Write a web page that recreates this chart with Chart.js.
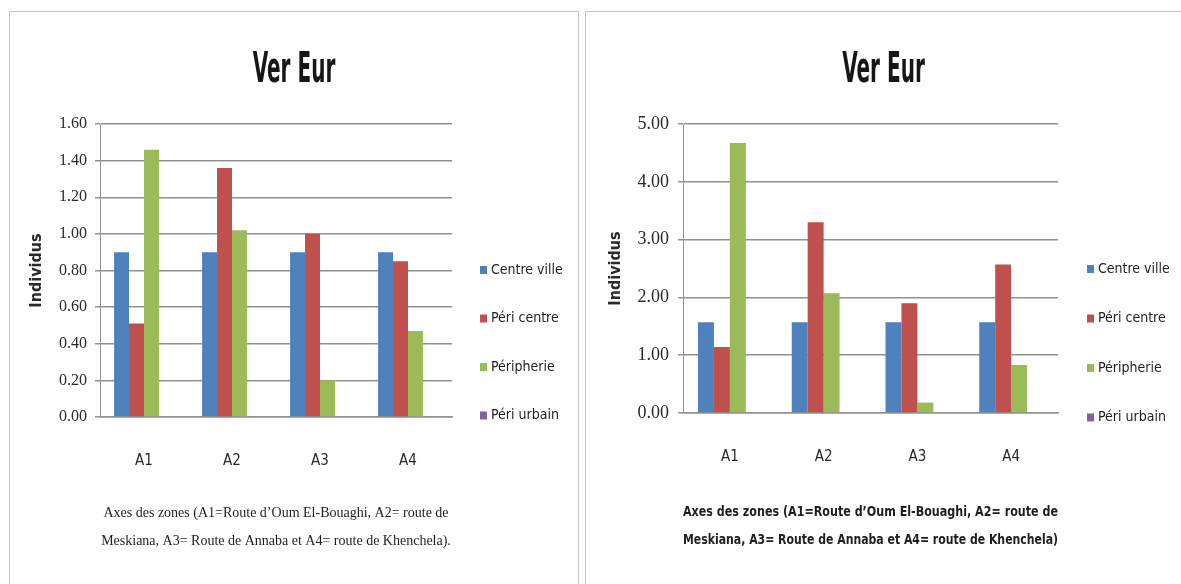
<!DOCTYPE html>
<html lang="fr">
<head>
<meta charset="UTF-8">
<title>Ver Eur</title>
<script src="https://cdn.jsdelivr.net/npm/chart.js"></script>
<style>
  body { margin: 0; background: #fff; width: 1181px; height: 584px; overflow: hidden; position: relative; }
  .panel { position: absolute; top: 11px; border: 1px solid #c6c6c6; border-bottom: none; background: #fff; }
  #leftPanel { left: 9px; width: 568px; height: 573px; }
  #rightPanel { left: 585px; width: 596px; height: 573px; border-right: none; }
  canvas { display: block; }
</style>
</head>
<body>
<div class="panel" id="leftPanel"><canvas id="leftChart" width="568" height="573"></canvas></div>
<div class="panel" id="rightPanel"><canvas id="rightChart" width="595" height="573"></canvas></div>

<script>
// categories and series
const categories = ['A1', 'A2', 'A3', 'A4'];
const seriesNames = ['Centre ville', 'Péri centre', 'Péripherie', 'Péri urbain'];
const seriesColors = ['#4f81bd', '#c0504d', '#9bbb59', '#8064a2'];

// left chart values
const leftCentreVille = [0.90, 0.90, 0.90, 0.90];
const leftPeriCentre  = [0.51, 1.36, 1.00, 0.85];
const leftPeripherie  = [1.46, 1.02, 0.20, 0.47];
const leftPeriUrbain  = [0, 0, 0, 0];
const leftTicks = [0, 0.2, 0.4, 0.6, 0.8, 1.0, 1.2, 1.4, 1.6];

// right chart values
const rightCentreVille = [1.57, 1.57, 1.57, 1.57];
const rightPeriCentre  = [1.14, 3.30, 1.90, 2.57];
const rightPeripherie  = [4.67, 2.07, 0.18, 0.83];
const rightPeriUrbain  = [0, 0, 0, 0];
const rightTicks = [0, 1, 2, 3, 4, 5];

const chartTitle = 'Ver Eur';
const yTitle = 'Individus';
const leftCaption = ['Axes des zones (A1=Route d\u2019Oum El-Bouaghi, A2= route de',
                     'Meskiana, A3= Route de Annaba et A4= route de Khenchela).'];
const rightCaption = ['Axes des zones (A1=Route d\u2019Oum El-Bouaghi, A2= route de',
                      'Meskiana, A3= Route de Annaba et A4= route de Khenchela)'];

const narrow = "'DejaVu Sans Condensed', 'DejaVu Sans', sans-serif";
const serif = "'Liberation Serif', 'DejaVu Serif', serif";
const gridGray = '#929292';

// tall, narrow chart title like the original picture
const squeezedTitle = {
    id: 'squeezedTitle',
    afterDraw(chart, args, opts) {
        const ctx = chart.ctx;
        ctx.save();
        ctx.translate(chart.width / 2, opts.baseline);
        ctx.scale(opts.squeeze, 1);
        ctx.font = 'bold 42px ' + narrow;
        ctx.fillStyle = '#161616';
        ctx.textAlign = 'center';
        ctx.textBaseline = 'alphabetic';
        ctx.fillText(opts.text, 0, 0);
        ctx.restore();
    }
};

// legend drawn at a fixed place at the right of the plot
const sideLegend = {
    id: 'sideLegend',
    afterDraw(chart, args, opts) {
        const ctx = chart.ctx;
        ctx.save();
        ctx.font = '14px ' + narrow;
        ctx.textBaseline = 'middle';
        chart.data.datasets.forEach((ds, i) => {
            const y = opts.y + i * opts.step;
            ctx.fillStyle = ds.backgroundColor;
            ctx.fillRect(opts.x, y - 4, 7, 8);
            ctx.fillStyle = '#1e1e1e';
            ctx.fillText(ds.label, opts.x + 11, y);
        });
        ctx.restore();
    }
};

const makeDatasets = (values) => values.map((vals, i) => ({
    label: seriesNames[i],
    data: vals,
    backgroundColor: seriesColors[i],
    borderWidth: 0,
    categoryPercentage: 0.68,
    barPercentage: 1.0
}));

const makeChart = (canvasId, values, ticks, cfg) => {
    const ctx = document.getElementById(canvasId).getContext('2d');
    return new Chart(ctx, {
        type: 'bar',
        data: { labels: categories, datasets: makeDatasets(values) },
        options: {
            responsive: false,
            animation: false,
            devicePixelRatio: 1,
            layout: { padding: { top: 112 } },
            scales: {
                x: {
                    grid: { display: false, drawTicks: false },
                    border: { display: true, color: gridGray, width: 1.5 },
                    ticks: { padding: cfg.xTickPad, color: '#2a2a2a', font: { family: narrow, size: 15 } },
                    title: {
                        display: true,
                        text: cfg.caption,
                        color: '#1e1e1e',
                        font: cfg.captionFont,
                        padding: { top: 0, bottom: 30 }
                    },
                    afterFit: (s) => { s.height = cfg.xHeight; }
                },
                y: {
                    min: ticks[0],
                    max: ticks[ticks.length - 1],
                    afterBuildTicks: (s) => { s.ticks = ticks.map(v => ({ value: v })); },
                    ticks: {
                        padding: cfg.yTickPad,
                        color: '#2a2a2a',
                        font: { family: serif, size: cfg.yTickSize },
                        callback: (v) => Number(v).toFixed(2)
                    },
                    grid: { color: gridGray, lineWidth: 1.5, tickLength: 5 },
                    border: { display: true, color: gridGray, width: 1 },
                    title: {
                        display: true,
                        text: yTitle,
                        color: '#2a2a2a',
                        font: { family: narrow, size: 16, weight: 'bold' },
                        padding: { top: cfg.yTitlePad, bottom: 0 }
                    },
                    afterFit: (s) => { s.width = cfg.yWidth; }
                },
                // empty axis that keeps room for the legend on the right
                legendRoom: {
                    type: 'linear',
                    position: 'right',
                    grid: { display: false },
                    border: { display: false },
                    ticks: { display: false },
                    afterFit: (s) => { s.width = cfg.legendRoom; }
                }
            },
            plugins: {
                legend: { display: false },
                tooltip: { enabled: false },
                title: { display: false },
                squeezedTitle: { text: chartTitle, baseline: 70, squeeze: 0.53 },
                sideLegend: cfg.legend
            }
        },
        plugins: [squeezedTitle, sideLegend]
    });
};

makeChart('leftChart',
    [leftCentreVille, leftPeriCentre, leftPeripherie, leftPeriUrbain],
    leftTicks,
    {
        legendRoom: 126, xHeight: 168, xTickPad: 35, yTickPad: 8, yTickSize: 16, yWidth: 90, yTitlePad: 17,
        caption: leftCaption,
        captionFont: { family: serif, size: 14, lineHeight: 2 },
        legend: { x: 470, y: 258, step: 48.5 }
    });

makeChart('rightChart',
    [rightCentreVille, rightPeriCentre, rightPeripherie, rightPeriUrbain],
    rightTicks,
    {
        legendRoom: 123, xHeight: 172, xTickPad: 35, yTickPad: 9, yTickSize: 18, yWidth: 97, yTitlePad: 20,
        caption: rightCaption,
        captionFont: { family: narrow, size: 13.5, weight: 'bold', lineHeight: 2.1 },
        legend: { x: 501, y: 257, step: 49.5 }
    });
</script>
</body>
</html>
